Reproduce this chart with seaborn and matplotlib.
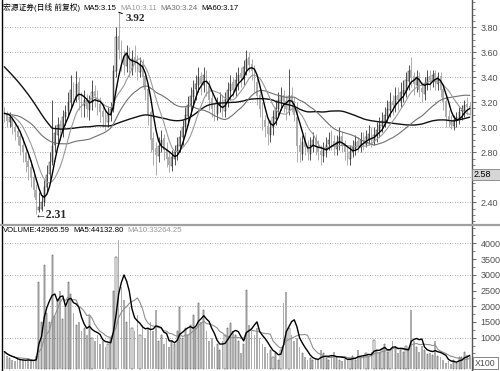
import numpy as np
import pandas as pd
import matplotlib
matplotlib.use("Agg")
import matplotlib.pyplot as plt
import matplotlib.patches as patches
from matplotlib.text import Annotation
from matplotlib.ticker import MultipleLocator
import seaborn as sns

# 宏源证券 daily bars (前复权)
# closes before the visible window, only used to warm up the moving averages
prior_close = [4.40, 4.38, 4.42, 4.36, 4.35, 4.38, 4.40, 4.37, 4.34, 4.36,
               4.39, 4.35, 4.33, 4.37, 4.36, 4.38, 4.34, 4.32, 4.35,
               3.12, 3.08, 3.15, 3.10, 3.05, 3.09, 3.14, 3.18, 3.12, 3.06,
               3.04, 3.08, 3.13, 3.16, 3.11, 3.07, 3.05, 3.10, 3.14, 3.12,
               3.08, 3.06, 3.11, 3.15, 3.13, 3.09, 3.05, 3.08, 3.12, 3.16,
               3.14, 3.10, 3.07, 3.09, 3.13, 3.15, 3.11, 3.08, 3.12, 3.14, 3.12]

open_ = [3.12, 3.10, 3.04, 3.07, 3.00, 2.97, 2.93, 2.86, 2.80, 2.73,
         2.68, 2.60, 2.50, 2.34, 2.35, 2.40, 2.52, 2.63, 2.72, 2.86,
         2.94, 3.03, 2.97, 3.08, 3.13, 3.20, 3.31, 3.24, 3.36, 3.23,
         3.17, 3.23, 3.14, 3.20, 3.29, 3.26, 3.19, 3.13, 3.09, 3.04,
         3.10, 3.15, 3.45, 3.73, 3.63, 3.56, 3.49, 3.59, 3.47, 3.56,
         3.53, 3.44, 3.51, 3.41, 3.31, 3.12, 2.91, 2.83, 2.77, 2.86,
         2.91, 2.83, 2.76, 2.69, 2.75, 2.80, 2.85, 2.92, 3.00, 3.09,
         3.18, 3.24, 3.31, 3.34, 3.41, 3.34, 3.43, 3.33, 3.23, 3.16,
         3.11, 3.18, 3.21, 3.13, 3.22, 3.29, 3.36, 3.29, 3.37, 3.43,
         3.39, 3.47, 3.56, 3.51, 3.46, 3.36, 3.26, 3.16, 3.06, 3.01,
         2.94, 3.00, 3.07, 3.15, 3.21, 3.26, 3.21, 3.14, 3.26, 3.21,
         3.08, 2.86, 2.79, 2.89, 2.85, 2.79, 2.85, 2.91, 2.85, 2.81,
         2.77, 2.81, 2.87, 2.91, 2.89, 2.83, 2.87, 2.93, 2.87, 2.81,
         2.75, 2.80, 2.83, 2.89, 2.84, 2.91, 2.87, 2.91, 2.96, 2.89,
         2.93, 2.97, 3.01, 3.04, 3.09, 3.14, 3.21, 3.17, 3.26, 3.21,
         3.27, 3.29, 3.37, 3.46, 3.41, 3.34, 3.41, 3.31, 3.27, 3.34,
         3.41, 3.37, 3.43, 3.35, 3.41, 3.31, 3.21, 3.09, 3.04, 3.01,
         3.05, 3.07, 3.13, 3.13, 3.19, 3.17]

high = [3.16, 3.13, 3.12, 3.10, 3.04, 3.02, 2.98, 2.92, 2.85, 2.80,
        2.74, 2.66, 2.55, 2.48, 2.46, 2.58, 2.70, 2.80, 3.22, 3.02,
        3.08, 3.06, 3.14, 3.18, 3.28, 3.42, 3.36, 3.45, 3.40, 3.28,
        3.30, 3.27, 3.26, 3.38, 3.34, 3.30, 3.24, 3.18, 3.14, 3.16,
        3.20, 3.50, 3.80, 3.92, 3.70, 3.62, 3.66, 3.64, 3.62, 3.66,
        3.58, 3.56, 3.55, 3.44, 3.34, 3.14, 2.96, 2.88, 2.92, 2.98,
        2.95, 2.88, 2.80, 2.82, 2.86, 2.92, 2.98, 3.06, 3.16, 3.25,
        3.32, 3.38, 3.42, 3.48, 3.44, 3.48, 3.46, 3.38, 3.28, 3.20,
        3.24, 3.28, 3.26, 3.28, 3.36, 3.42, 3.40, 3.44, 3.48, 3.48,
        3.54, 3.62, 3.60, 3.55, 3.50, 3.40, 3.30, 3.20, 3.10, 3.05,
        3.06, 3.14, 3.22, 3.28, 3.32, 3.30, 3.26, 3.47, 3.32, 3.24,
        3.20, 2.92, 2.94, 2.96, 2.90, 2.92, 2.96, 2.95, 2.90, 2.86,
        2.88, 2.92, 2.96, 2.98, 2.94, 2.94, 3.00, 2.96, 2.90, 2.84,
        2.86, 2.90, 2.94, 2.92, 2.96, 2.96, 2.98, 3.02, 3.00, 3.00,
        3.04, 3.08, 3.12, 3.16, 3.22, 3.28, 3.26, 3.32, 3.32, 3.36,
        3.38, 3.44, 3.50, 3.56, 3.44, 3.46, 3.44, 3.36, 3.40, 3.46,
        3.46, 3.46, 3.46, 3.44, 3.44, 3.34, 3.26, 3.14, 3.10, 3.10,
        3.12, 3.16, 3.18, 3.22, 3.24, 3.20]

low = [3.04, 3.00, 3.00, 2.95, 2.90, 2.86, 2.78, 2.72, 2.64, 2.58,
       2.52, 2.44, 2.31, 2.32, 2.33, 2.37, 2.48, 2.58, 2.70, 2.80,
       2.88, 2.90, 2.92, 3.02, 3.08, 3.15, 3.18, 3.20, 3.14, 3.08,
       3.08, 3.08, 3.06, 3.14, 3.16, 3.10, 3.04, 3.00, 2.98, 3.00,
       3.05, 3.12, 3.40, 3.55, 3.45, 3.42, 3.44, 3.40, 3.42, 3.44,
       3.38, 3.40, 3.32, 3.22, 3.02, 2.80, 2.70, 2.62, 2.72, 2.80,
       2.74, 2.68, 2.64, 2.65, 2.70, 2.74, 2.80, 2.86, 2.94, 3.02,
       3.10, 3.16, 3.22, 3.28, 3.26, 3.28, 3.25, 3.14, 3.08, 3.05,
       3.06, 3.12, 3.08, 3.08, 3.16, 3.22, 3.24, 3.24, 3.30, 3.32,
       3.34, 3.42, 3.44, 3.38, 3.28, 3.18, 3.08, 2.98, 2.92, 2.86,
       2.88, 2.94, 3.02, 3.08, 3.14, 3.12, 3.06, 3.10, 3.12, 3.05,
       2.72, 2.72, 2.74, 2.78, 2.74, 2.74, 2.80, 2.78, 2.74, 2.70,
       2.72, 2.76, 2.82, 2.82, 2.78, 2.78, 2.82, 2.80, 2.74, 2.70,
       2.70, 2.76, 2.78, 2.80, 2.80, 2.82, 2.84, 2.86, 2.84, 2.86,
       2.88, 2.92, 2.96, 3.00, 3.04, 3.08, 3.10, 3.12, 3.14, 3.16,
       3.20, 3.24, 3.30, 3.32, 3.26, 3.28, 3.24, 3.20, 3.22, 3.30,
       3.30, 3.32, 3.30, 3.30, 3.24, 3.14, 3.00, 3.00, 2.99, 2.98,
       3.00, 3.03, 3.06, 3.08, 3.10, 3.10]

close = [3.10, 3.05, 3.08, 3.00, 2.96, 2.92, 2.85, 2.80, 2.72, 2.68,
         2.60, 2.50, 2.42, 2.36, 2.40, 2.52, 2.62, 2.72, 2.85, 2.95,
         3.02, 2.98, 3.08, 3.12, 3.20, 3.30, 3.25, 3.35, 3.22, 3.18,
         3.22, 3.15, 3.20, 3.28, 3.25, 3.18, 3.12, 3.08, 3.05, 3.10,
         3.15, 3.45, 3.72, 3.62, 3.55, 3.50, 3.58, 3.48, 3.55, 3.52,
         3.45, 3.50, 3.40, 3.30, 3.10, 2.90, 2.82, 2.78, 2.85, 2.90,
         2.82, 2.75, 2.70, 2.76, 2.80, 2.86, 2.92, 3.00, 3.10, 3.18,
         3.25, 3.30, 3.35, 3.40, 3.35, 3.42, 3.32, 3.22, 3.15, 3.12,
         3.18, 3.20, 3.14, 3.22, 3.30, 3.35, 3.30, 3.38, 3.42, 3.40,
         3.48, 3.55, 3.50, 3.45, 3.35, 3.25, 3.15, 3.05, 3.00, 2.95,
         3.00, 3.08, 3.15, 3.22, 3.25, 3.20, 3.15, 3.25, 3.20, 3.10,
         2.85, 2.80, 2.88, 2.84, 2.80, 2.86, 2.90, 2.84, 2.80, 2.78,
         2.82, 2.86, 2.90, 2.88, 2.84, 2.88, 2.92, 2.86, 2.80, 2.76,
         2.80, 2.84, 2.88, 2.85, 2.90, 2.88, 2.92, 2.95, 2.90, 2.94,
         2.98, 3.02, 3.05, 3.10, 3.15, 3.20, 3.18, 3.25, 3.22, 3.28,
         3.30, 3.38, 3.45, 3.40, 3.35, 3.40, 3.30, 3.28, 3.35, 3.40,
         3.38, 3.42, 3.36, 3.40, 3.30, 3.20, 3.08, 3.05, 3.02, 3.06,
         3.08, 3.12, 3.14, 3.18, 3.16, 3.15]

# volume in x100 units (as on the right axis)
volume = [560, 420, 350, 300, 260, 330, 280, 300, 250, 310,
          270, 240, 420, 2770, 1500, 3310, 1800, 1500, 3630, 1700,
          2200, 2500, 1600, 2000, 2770, 2400, 1800, 1400, 1500, 1200,
          1300, 1100, 1720, 1000, 900, 1100, 800, 900, 700, 800,
          1000, 2500, 3570, 4100, 2600, 2200, 1500, 1970, 1300, 1200,
          1720, 1100, 1400, 1000, 1300, 1500, 1200, 1880, 900, 1100,
          800, 1000, 700, 900, 800, 1200, 1970, 1000, 1300, 1100,
          1400, 1720, 1300, 2100, 1500, 1880, 1200, 900, 1000, 700,
          800, 600, 900, 1100, 1300, 1460, 1200, 1100, 900, 500,
          800, 2520, 1400, 1200, 1100, 1300, 1000, 800, 700, 500,
          600, 400, 500, 300, 600, 2100, 2450, 1300, 1100, 900,
          1000, 700, 500, 400, 300, 350, 280, 320, 300, 600,
          500, 350, 300, 420, 550, 380, 300, 260, 340, 300,
          360, 420, 300, 600, 380, 450, 500, 420, 560, 920,
          600, 500, 650, 800, 550, 600, 900, 700, 520, 600,
          560, 750, 650, 1880, 900, 700, 560, 750, 600, 480,
          520, 450, 900, 420, 380, 300, 200, 250, 180, 300,
          195, 400, 375, 550, 450, 430]

price_ticks = [2.40, 2.60, 2.80, 3.00, 3.20, 3.40, 3.60, 3.80]
price_labels = ["2.40", "", "2.80", "3.00", "3.20", "3.40", "3.60", "3.80"]
vol_ticks = [1000, 1500, 2000, 2500, 3000, 3500, 4000]
vol_grid = [1000, 2000, 3000, 4000]

df = pd.DataFrame({"open": open_, "high": high, "low": low,
                   "close": close, "volume": volume})
df["day"] = np.arange(len(df))
full = pd.Series(prior_close + close)
for n in (5, 10, 30, 60):
    df[f"ma{n}"] = full.rolling(n).mean().iloc[len(prior_close):].to_numpy()
df["vma5"] = df["volume"].rolling(5, min_periods=1).mean()
df["vma10"] = df["volume"].rolling(10, min_periods=1).mean()
up = df["close"] >= df["open"]
dn = ~up

sns.set_style("white")
plt.rcParams["font.family"] = ["Liberation Sans", "Noto Sans CJK SC", "DejaVu Sans"]

W, H = 500, 371
fig = plt.figure(figsize=(W / 100, H / 100), dpi=100)
ax1 = fig.add_axes([2 / W, (H - 224) / H, 470 / W, 224 / H])
ax2 = fig.add_axes([2 / W, 0, 470 / W, (H - 225) / H])

GRAY = "#adadad"
bw = 0.6

# ---- price panel ----
ax1.vlines(df["day"][dn], df["low"][dn], df["high"][dn], color=GRAY, lw=0.7)
ax1.bar(df["day"][dn], (df["open"] - df["close"])[dn], bottom=df["close"][dn],
        width=bw, color=GRAY, lw=0)
ax1.vlines(df["day"][up], df["low"][up], df["high"][up], color="#222222", lw=0.55)
ax1.bar(df["day"][up], (df["close"] - df["open"])[up], bottom=df["open"][up],
        width=0.45, facecolor="white", edgecolor="#333333", lw=0.35)

sns.lineplot(data=df, x="day", y="ma60", ax=ax1, color="#111111", lw=1.0)
sns.lineplot(data=df, x="day", y="ma30", ax=ax1, color="#707070", lw=0.8)
sns.lineplot(data=df, x="day", y="ma10", ax=ax1, color="#9a9a9a", lw=0.8)
sns.lineplot(data=df, x="day", y="ma5", ax=ax1, color="black", lw=1.0)

xlim = (-0.87, len(df) - 1 + 0.83)
ax1.set_xlim(*xlim)
ax1.set_ylim(2.226, 4.018)
ax1.set_yticks(price_ticks)
ax1.set_yticklabels(price_labels)
ax1.yaxis.set_minor_locator(MultipleLocator(0.05))
ax1.grid(axis="y", which="major", ls=(0, (1, 2)), color="#8c8c8c", lw=0.6)

imax = int(df["high"].idxmax())
imin = int(df["low"].idxmin())
ax1.annotate(f"{df['high'][imax]:.2f}", xy=(imax, df["high"][imax]),
             xytext=(5, -4.5), textcoords="offset points", va="center",
             fontsize=8, fontweight="bold", family="Liberation Serif",
             arrowprops=dict(arrowstyle="-", lw=0.7, color="black",
                             shrinkA=0, shrinkB=0))
ax1.annotate(f"←{df['low'][imin]:.2f}", xy=(imin, df["low"][imin]),
             xytext=(-1, -1), textcoords="offset points", va="center",
             ha="left", fontsize=8.5, fontweight="bold",
             family=["Liberation Serif", "DejaVu Serif"])

# ---- volume panel ----
ax2.bar(df["day"][dn], df["volume"][dn], width=bw, color=GRAY, lw=0)
ax2.bar(df["day"][up], df["volume"][up], width=0.45, facecolor="white",
        edgecolor="#333333", lw=0.35)
sns.lineplot(data=df, x="day", y="vma10", ax=ax2, color="#909090", lw=0.8)
sns.lineplot(data=df, x="day", y="vma5", ax=ax2, color="black", lw=1.0)
ax2.set_xlim(*xlim)
ax2.set_ylim(-57, 4582)
ax2.set_yticks(vol_ticks)
ax2.set_yticklabels([str(v) for v in vol_ticks])
ax2.yaxis.set_minor_locator(MultipleLocator(250))
for g in vol_grid:
    ax2.axhline(g, ls=(0, (1, 2)), color="#8c8c8c", lw=0.6, zorder=0)

for ax in (ax1, ax2):
    ax.set_xticks([])
    ax.set_xlabel("")
    ax.set_ylabel("")
    ax.yaxis.tick_right()
    ax.tick_params(axis="y", which="major", length=3, width=0.6, pad=3,
                   labelsize=6.5, labelcolor="#505050", color="#505050")
    ax.tick_params(axis="y", which="minor", length=2, width=0.5,
                   color="#505050")
    for s in ("top", "bottom"):
        ax.spines[s].set_visible(False)
    ax.spines["left"].set_color("black")
    ax.spines["left"].set_linewidth(1.0)
    ax.spines["right"].set_color("#555555")
    ax.spines["right"].set_linewidth(1.0)

# panel separator
fig.add_artist(plt.Line2D([0, 1], [(H - 224.5) / H] * 2, color="#a0a0a0",
                          lw=1.6, transform=fig.transFigure))


def header(x_px, y_px, parts):
    # draw text pieces one after another on a line
    t = fig.text(x_px / W, 1 - y_px / H, parts[0][0], fontsize=5.6,
                 color=parts[0][1], va="center", ha="left")
    for s, c in parts[1:]:
        t = fig.add_artist(Annotation(s, xy=(1, 0.5), xycoords=t, xytext=(2.5, 0),
                                      textcoords="offset points", fontsize=5.6,
                                      color=c, va="center", ha="left"))


header(3, 8, [("宏源证券(日线 前复权)", "black"), ("MA5:3.15", "black"),
              ("MA10:3.11", "#999999"), ("MA30:3.24", "#707070"),
              ("MA60:3.17", "black")])
header(3, 230, [("VOLUME:42965.59", "black"), ("MA5:44132.80", "black"),
                ("MA10:33264.25", "#999999")])

# current price box and unit box on the right axis
fig.add_artist(patches.Rectangle((472 / W, 1 - 180 / H), 28 / W, 11 / H,
                                 transform=fig.transFigure, fc="#d6d6d6",
                                 ec="#808080", lw=0.6))
fig.text(474 / W, 1 - 174.5 / H, "2.58", fontsize=6.5, va="center", color="black")
fig.add_artist(patches.Rectangle((473 / W, 1 - 369 / H), 25 / W, 12 / H,
                                 transform=fig.transFigure, fc="white",
                                 ec="#707070", lw=0.6))
fig.text(475 / W, 1 - 363 / H, "X100", fontsize=6.3, va="center", color="#505050")

fig.savefig("out.png", dpi=100)
